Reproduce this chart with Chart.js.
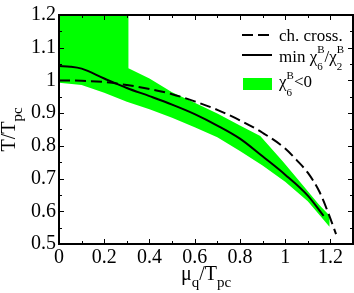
<!DOCTYPE html>
<html><head><meta charset="utf-8">
<script src="https://cdn.jsdelivr.net/npm/chart.js@4"></script>
<style>html,body{margin:0;padding:0;background:#fff;overflow:hidden}canvas{display:block}</style>
</head><body>
<canvas id="c" width="354" height="293" style="width:354px;height:293px"></canvas>
<script>
// ---- data ----
const xTickValues = [0, 0.2, 0.4, 0.6, 0.8, 1.0, 1.2];
const xTickLabels = ['0', '0.2', '0.4', '0.6', '0.8', '1', '1.2'];
const yTickValues = [0.5, 0.6, 0.7, 0.8, 0.9, 1.0, 1.1, 1.2];
const yTickLabels = ['0.5', '0.6', '0.7', '0.8', '0.9', '1', '1.1', '1.2'];

const seriesLabels = ['ch. cross.', 'min χ6B/χ2B', 'χ6B<0'];

// chiral crossover line (dashed)
const crossX = [0, 0.1, 0.2, 0.3, 0.4, 0.5, 0.6, 0.7, 0.8, 0.9, 1.0, 1.05, 1.1, 1.15, 1.19, 1.225];
const crossT = [1.0, 0.999, 0.995, 0.986, 0.974, 0.958, 0.936, 0.91, 0.878, 0.84, 0.792, 0.757, 0.718, 0.662, 0.596, 0.53];

// minimum of chi6/chi2 (solid)
const minX = [0, 0.05, 0.1, 0.2, 0.3, 0.4, 0.5, 0.6, 0.7, 0.8, 0.9, 1.0, 1.1, 1.17];
const minT = [1.044, 1.042, 1.036, 1.006, 0.977, 0.952, 0.926, 0.897, 0.862, 0.822, 0.768, 0.712, 0.648, 0.586];

// region chi6 < 0 (green band): upper and lower edges
const bandUpperX = [0, 0.307, 0.307, 0.4, 0.5, 0.6, 0.7, 0.8, 0.89, 0.99, 1.08, 1.15, 1.196];
const bandUpperT = [1.2, 1.2, 1.037, 1.006, 0.964, 0.932, 0.899, 0.862, 0.83, 0.752, 0.678, 0.62, 0.587];
const bandLowerX = [0, 0.1, 0.2, 0.3, 0.4, 0.5, 0.6, 0.7, 0.8, 0.9, 1.0, 1.1, 1.196];
const bandLowerT = [0.993, 0.986, 0.962, 0.935, 0.912, 0.886, 0.857, 0.826, 0.784, 0.74, 0.69, 0.631, 0.553];

// ---- helpers ----
const FAM = '"Liberation Serif", "Times New Roman", serif';
const pts = (xs, ys) => xs.map((x, i) => ({x: x, y: ys[i]}));
const bandPolygon = pts(bandUpperX, bandUpperT).concat(pts(bandLowerX, bandLowerT).reverse());

function richRun(ctx, parts, x, y, draw) {
  let cx = x;
  for (const p of parts) {
    ctx.font = p.size + 'px ' + FAM;
    if (p.stack) {
      const w = Math.max(ctx.measureText(p.sup).width, ctx.measureText(p.sub).width);
      if (draw) { ctx.fillText(p.sup, cx, y + p.supDy); ctx.fillText(p.sub, cx, y + p.subDy); }
      cx += w;
    } else {
      if (draw) ctx.fillText(p.t, cx, y + (p.dy || 0));
      cx += ctx.measureText(p.t).width;
    }
  }
  return cx - x;
}

const legendParts = [
  [{t: 'ch. cross.', size: 17}],
  [{t: 'min χ', size: 17}, {stack: true, sup: 'B', sub: '6', size: 11, supDy: -9, subDy: 8},
   {t: '/χ', size: 17}, {stack: true, sup: 'B', sub: '2', size: 11, supDy: -9, subDy: 8}],
  [{t: 'χ', size: 17}, {stack: true, sup: 'B', sub: '6', size: 11, supDy: -8, subDy: 9}, {t: '<0', size: 17}]
];

const decorPlugin = {
  id: 'decor',
  afterDatasetsDraw(chart) {
    const ctx = chart.ctx;
    const a = chart.chartArea;
    const xs = chart.scales.x, ys = chart.scales.y;
    ctx.save();
    ctx.strokeStyle = '#000';
    ctx.lineWidth = 1;
    const majL = 5, minL = 3;
    // x ticks (bottom & top)
    for (let v = 0; v <= 1.3001; v += 0.1) {
      const isMaj = Math.abs(Math.round(v * 10) % 2) === 0;
      const L = isMaj ? majL : minL;
      const px = Math.round(xs.getPixelForValue(v)) + 0.5;
      ctx.beginPath();
      ctx.moveTo(px, a.bottom); ctx.lineTo(px, a.bottom - L);
      ctx.moveTo(px, a.top); ctx.lineTo(px, a.top + L);
      ctx.stroke();
    }
    // y ticks (left & right)
    for (let v = 0.5; v <= 1.2001; v += 0.05) {
      const isMaj = Math.abs(Math.round(v * 100) % 10) === 0;
      const L = isMaj ? majL : minL;
      const py = Math.round(ys.getPixelForValue(v)) + 0.5;
      ctx.beginPath();
      ctx.moveTo(a.left, py); ctx.lineTo(a.left + L, py);
      ctx.moveTo(a.right, py); ctx.lineTo(a.right - L, py);
      ctx.stroke();
    }
    // frame
    ctx.lineWidth = 2;
    ctx.strokeRect(a.left, a.top, a.right - a.left, a.bottom - a.top);

    // legend
    const ds = chart.data.datasets;
    const lx0 = 242, lx1 = 272, tx = 279;
    ctx.fillStyle = '#000';
    ctx.textBaseline = 'alphabetic';
    ctx.textAlign = 'left';
    const rows = [{line: 35, base: 41}, {line: 55, base: 62}, {line: 84, base: 87}];
    for (let i = 0; i < 3; i++) {
      const d = ds[i];
      if (i < 2) {
        ctx.save();
        ctx.strokeStyle = d.borderColor;
        ctx.lineWidth = d.borderWidth;
        ctx.setLineDash(d.borderDash || []);
        ctx.beginPath();
        ctx.moveTo(lx0, rows[i].line); ctx.lineTo(lx1, rows[i].line);
        ctx.stroke();
        ctx.restore();
      } else {
        ctx.fillStyle = d.backgroundColor;
        ctx.fillRect(243, 78, 29, 12);
        ctx.fillStyle = '#000';
      }
      richRun(ctx, legendParts[i], tx, rows[i].base, true);
    }

    // x axis title
    const xt = [{t: 'μ', size: 20}, {t: 'q', size: 15, dy: 7}, {t: '/T', size: 20}, {t: 'pc', size: 15, dy: 7}];
    const wx = richRun(ctx, xt, 0, 0, false);
    richRun(ctx, xt, (a.left + a.right) / 2 - wx / 2, 280, true);

    // y axis title (rotated)
    const yt = [{t: 'T/T', size: 20}, {t: 'pc', size: 15, dy: 7}];
    const wy = richRun(ctx, yt, 0, 0, false);
    ctx.save();
    ctx.translate(15, (a.top + a.bottom) / 2 + wy / 2);
    ctx.rotate(-Math.PI / 2);
    richRun(ctx, yt, 0, 0, true);
    ctx.restore();
    ctx.restore();
  }
};

new Chart(document.getElementById('c'), {
  type: 'line',
  data: {
    datasets: [
      {label: seriesLabels[0], data: pts(crossX, crossT), borderColor: '#000', borderWidth: 2,
       borderDash: [11, 5], pointRadius: 0, fill: false, cubicInterpolationMode: 'monotone'},
      {label: seriesLabels[1], data: pts(minX, minT), borderColor: '#000', borderWidth: 2,
       pointRadius: 0, fill: false, cubicInterpolationMode: 'monotone'},
      {label: seriesLabels[2], data: bandPolygon, borderColor: 'rgba(0,0,0,0)', borderWidth: 0,
       backgroundColor: '#00ff00', pointRadius: 0, fill: 'shape', tension: 0}
    ]
  },
  options: {
    responsive: false,
    animation: false,
    devicePixelRatio: 1,
    layout: {padding: {top: 8, right: 1, left: 0, bottom: 0}},
    plugins: {legend: {display: false}, tooltip: {enabled: false}},
    scales: {
      x: {
        type: 'linear', min: 0, max: 1.3,
        grid: {display: false, drawTicks: false}, border: {display: false},
        afterBuildTicks: s => { s.ticks = xTickValues.map(v => ({value: v})); },
        afterFit: s => { s.height = 49; },
        ticks: {autoSkip: false, maxRotation: 0, padding: 2, color: '#000',
                font: {family: FAM, size: 20},
                callback: (v, i) => xTickLabels[i]}
      },
      y: {
        type: 'linear', min: 0.5, max: 1.2,
        grid: {display: false, drawTicks: false}, border: {display: false},
        afterBuildTicks: s => { s.ticks = yTickValues.map(v => ({value: v})); },
        afterFit: s => { s.width = 59; },
        ticks: {autoSkip: false, padding: 3, color: '#000',
                font: {family: FAM, size: 20},
                callback: (v, i) => yTickLabels[i]}
      }
    }
  },
  plugins: [decorPlugin]
});
</script>
</body></html>
